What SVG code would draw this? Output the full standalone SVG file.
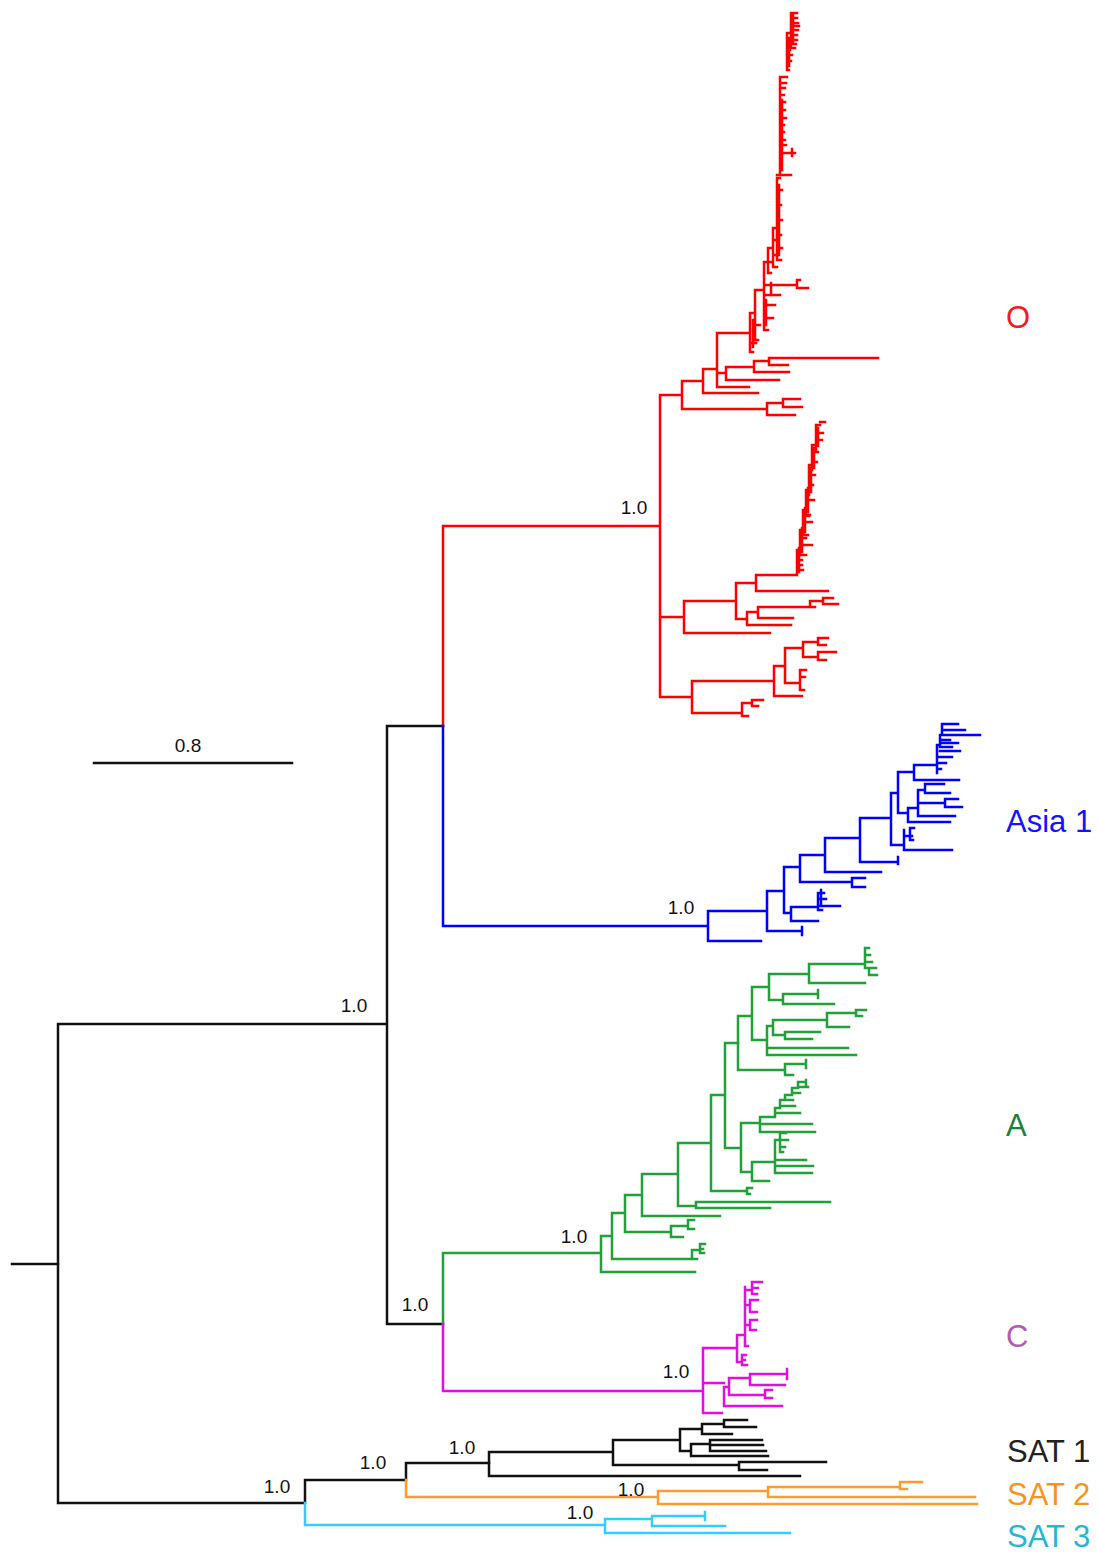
<svg xmlns="http://www.w3.org/2000/svg" width="1098" height="1552" viewBox="0 0 1098 1552">
<style>
.e{fill:none;stroke-width:2.5;stroke-linecap:square;stroke-linejoin:miter}
.k{stroke:#111}.r{stroke:#ff0000}.b{stroke:#0000ff}.g{stroke:#22a03a}.m{stroke:#e010e0}.o{stroke:#ff9a33}.c{stroke:#33ccff}
.s{font-family:"Liberation Sans",Arial,sans-serif;font-size:19px;fill:#111;text-anchor:middle}
.l{font-family:"Liberation Sans",Arial,sans-serif;font-size:31px}
</style>
<rect width="1098" height="1552" fill="#fff"/>
<g id="connectors">
<path class="e k" stroke-width="1.6" d="M12 1264H58"/>
<path class="e k" stroke-width="2.7" d="M58 1024V1503M58 1024H387M387 726V1324M387 726H443M387 1324H443M58 1503H305M305 1480V1503M305 1480H406M406 1463V1480M406 1463H489"/>
<path id="sat1" class="e k" d="M489 1452V1476M489 1452H613M489 1476H800M613 1440V1465M613 1440H680M613 1465H739M680 1429V1451M680 1429H702M680 1451H691M702 1424V1434M702 1424H724M702 1434H732M724 1420V1427M724 1420H747M724 1427H756M691 1444V1456M691 1444H710M691 1456H768M710 1440V1451M710 1440H762M710 1445H763M710 1451H766M739 1462V1470M739 1462H826M739 1470H767"/>
<path id="cladeO" class="e r" d="M443 526V726M443 526H660M660 395V697M660 395H682M682 381V409M682 409H767M682 381H703M767 403V415M767 403H783M767 415H795M783 399V407M783 399H800M783 407H802M703 369V393M703 393H758M703 369H717M717 333V387M717 333H750M717 387H749M717 373H726M726 367V380M726 380H779M726 367H754M754 361V372M754 372H789M754 361H769M769 358V365M769 358H878M769 365H788
M750 313V352M750 352H753M750 343H756M753 320V347M750 313H755M755 290V340M755 340H758M755 325H760M755 290H764M764 262V330M764 330H768M764 318H773M764 305H775M764 295H780M764 285H771M766 300V325M771 283V295M771 285H797M797 280V288M797 280H800M797 288H808M764 262H768M768 248V273M768 273H771M768 262H772M768 248H773M773 228V267M773 267H777M773 255H778M773 240H777M773 228H777M777 178V260M777 260H781M777 248H782M777 235H781M777 220H782M777 205H781M777 190H782M779 185V255M777 175H791M777 178H780M780 77V175M782 100V170M780 153H795M792 149V156M780 145H786M780 140H785M780 132H784M780 125H784M780 118H786M780 110H785M780 102H785M780 95H784M780 88H785M780 83H786M780 77H787M787 33V70M789 38V66M787 70H789M787 61H791M787 55H792M787 50H790M787 42H793M787 33H791M791 13V48M793 15V44M791 48H795M791 44H796M791 40H797M791 35H797M791 30H798M791 26H799M791 23H798M791 18H797M791 13H797
M660 617H684M684 601V633M684 633H770M684 601H736M736 583V619M736 583H756M736 619H747M756 575V591M756 591H828M756 575H797M747 612V625M747 625H791M747 612H758M758 607V618M758 618H793M758 607H810M810 601V607M810 607H815M810 601H823M823 598V604M823 598H833M823 604H838
M797 550V575M799 548V572M797 570H803M797 565H802M797 560H802M797 550H800M800 530V555M802 528V552M800 555H806M800 545H812M800 538H806M800 530H803M803 510V535M805 508V532M803 535H808M803 522H812M803 516H809M803 510H806M806 490V515M808 488V512M806 515H810M806 500H814M806 490H809M809 465V495M811 468V492M809 475H815M809 485H813M809 465H812M812 445V470M814 448V468M812 462H817M812 452H818M812 445H816M816 425V450M818 428V446M816 440H822M816 433H823M816 425H820M820 422H825
M660 697H692M692 681V713M692 713H742M692 681H774M742 703V716M742 716H748M742 703H752M752 700V706M752 700H763M752 706H758M774 666V696M774 696H802M774 666H785M785 648V683M785 648H803M785 683H800M800 670V690M800 670H806M800 677H805M800 690H804M803 642V657M803 642H818M818 638V645M818 638H828M818 645H826M803 657H818M818 652V660M818 652H836M818 660H826"/>
<path id="cladeAsia1" class="e b" d="M443 726V926M443 926H708M708 911V941M708 941H761M708 911H767M767 891V931M767 931H802M802 927V935M767 891H784M784 867V913M784 913H791M784 867H800M791 907V921M791 921H818M791 907H818M818 893V910M818 906H840M818 893H824M818 899H826M818 910H822M821 890V904M800 855V882M800 882H852M852 878V887M852 878H865M852 887H865M800 855H825M825 838V872M825 872H881M825 838H860M860 818V862M860 862H898M898 857V864M860 818H891M891 793V845M891 793H898M891 845H904M904 830V850M904 850H952M904 836H912M910 828V840M910 828H914M910 840H913M898 772V813M898 772H914M914 765V780M914 780H959M914 765H937M898 813H908M908 808V822M908 822H950M908 808H918M918 790V816M918 816H955M918 803H945M945 799V807M945 799H958M945 807H962M918 790H925M925 784V793M925 784H944M925 793H950
M937 773V745H940V735H942V724M942 724H958M942 730H965M942 735H980M940 740H950M940 743H958M940 747H952M940 751H960M937 757H952M937 763H946M937 769H941"/>
<path id="cladeA" class="e g" d="M443 1253V1324M443 1253H601M601 1236V1272M601 1272H695M601 1236H612M612 1213V1259M612 1259H692M692 1250V1259M692 1259H697M692 1250H700M700 1244V1253M700 1244H705M700 1249H703M700 1253H704M612 1213H625M625 1195V1232M625 1232H671M625 1195H642M671 1226V1237M671 1237H683M671 1226H688M688 1220V1229M688 1220H694M688 1229H694M642 1174V1216M642 1216H720M642 1174H678M678 1143V1206M678 1206H696M696 1202V1208M696 1202H830M696 1208H770M678 1143H711M711 1095V1191M711 1191H747M747 1188V1194M747 1188H752M747 1194H750M711 1095H725M725 1043V1148M725 1148H741M725 1043H738
M741 1123V1172M741 1172H752M752 1162V1181M752 1181H769M752 1162H775M775 1140V1173M775 1173H812M775 1166H813M775 1160H806M775 1140H780M780 1133V1152M780 1133H786M780 1140H788M780 1147H785M780 1152H783
M741 1123H760M760 1117V1132M760 1132H815M760 1124H812M760 1117H775M775 1117V1108H780V1100H785V1095H792V1088H798V1082M775 1113H800M780 1106H795M785 1100H793M792 1093H800M798 1087H808M798 1082H806M806 1080V1087"/>
<path id="cladeA2" class="e g" d="M738 1016V1070M738 1070H785M785 1064V1075M785 1064H806M806 1060V1068M785 1075H793M738 1016H752M752 987V1040M752 987H769M752 1040H767M767 1026V1055M767 1048H848M767 1055H856M767 1026H773M773 1020V1035M773 1020H827M773 1035H785M827 1013V1027M827 1027H849M827 1013H856M856 1010V1016M856 1010H866M856 1016H862M785 1032V1039M785 1032H820M785 1039H812M769 974V1000M769 974H809M769 1000H783M809 964V983M809 983H865M809 964H865M865 948V968M865 948H869M865 955H870M865 962H872M869 968V975M865 968H869M869 968H876M869 975H877M783 994V1004M783 994H818M818 990V998M783 1004H834"/>
<path id="cladeC" class="e m" d="M443 1324V1391M443 1391H703M703 1348V1413M703 1413H722M703 1348H737M703 1383H724M737 1335V1362M737 1362H742M742 1355V1365M742 1355H746M742 1360H745M742 1365H747M737 1335H745M745 1287V1346M745 1346H748M745 1325H750M750 1320V1330M750 1320H757M750 1330H756M745 1305H750M750 1300V1312M750 1300H758M750 1312H757M745 1290H752M752 1282V1294M752 1282H762M752 1288H758M752 1294H757M724 1387V1406M724 1406H782M724 1387H729M729 1378V1395M729 1395H765M765 1390V1398M765 1390H772M765 1398H772M729 1378H750M750 1374V1385M750 1374H787M787 1369V1379M750 1385H785"/>
<path id="sat2" class="e o" d="M406 1480V1497M406 1497H658M658 1491V1504M658 1491H768M658 1504H977M768 1487V1497M768 1487H900M768 1497H975M900 1482V1489M900 1482H922M900 1489H907"/>
<path id="sat3" class="e c" d="M305 1503V1525M305 1525H605M605 1519V1533M605 1519H652M605 1533H790M652 1516V1526M652 1516H705M705 1512V1520M652 1526H725"/>
</g>
<g id="scale">
<path class="e k" stroke-width="2.8" d="M94 763H292"/>
<text class="s" x="188" y="752">0.8</text>
</g>
<g id="support">
<text class="s" x="634" y="514">1.0</text>
<text class="s" x="681" y="914">1.0</text>
<text class="s" x="354" y="1012">1.0</text>
<text class="s" x="415" y="1311">1.0</text>
<text class="s" x="574" y="1243">1.0</text>
<text class="s" x="676" y="1378">1.0</text>
<text class="s" x="277" y="1493">1.0</text>
<text class="s" x="373" y="1469">1.0</text>
<text class="s" x="462" y="1454">1.0</text>
<text class="s" x="631" y="1496">1.0</text>
<text class="s" x="580" y="1519">1.0</text>
</g>
<g id="node-O"><text class="l" x="1006" y="328" fill="#ee1c24">O</text></g>
<g id="node-Asia1"><text class="l" x="1006" y="832" fill="#1414f5">Asia 1</text></g>
<g id="node-A"><text class="l" x="1006" y="1136" fill="#1a7f3c">A</text></g>
<g id="node-C"><text class="l" x="1006" y="1347" fill="#b05cb4">C</text></g>
<g id="node-SAT1"><text class="l" x="1007" y="1462" fill="#222">SAT 1</text></g>
<g id="node-SAT2"><text class="l" x="1007" y="1505" fill="#f7941d">SAT 2</text></g>
<g id="node-SAT3"><text class="l" x="1007" y="1547" fill="#29b5d0">SAT 3</text></g>
</svg>
